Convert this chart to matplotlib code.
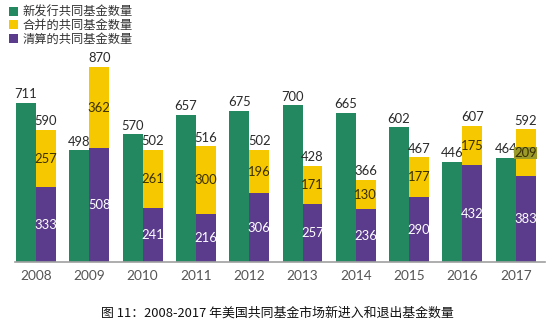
import matplotlib
matplotlib.use('Agg')
import numpy as np
import matplotlib.pyplot as plt

plt.rcParams['font.family'] = ['Noto Sans CJK SC', 'DejaVu Sans']

# datos
anios = ['2008', '2009', '2010', '2011', '2012', '2013', '2014', '2015', '2016', '2017']
nuevos = [711, 498, 570, 657, 675, 700, 665, 602, 446, 464]
fusionados = [257, 362, 261, 300, 196, 171, 130, 177, 175, 209]
liquidados = [333, 508, 241, 216, 306, 257, 236, 290, 432, 383]

verde = '#23875F'
amarillo = '#F5C800'
morado = '#5B3B8C'

fig = plt.figure(figsize=(5.5, 3.25), dpi=100)
ax = fig.add_axes([0, 63 / 325, 1, 262 / 325])

x = np.arange(len(anios))
w = 0.375
ax.bar(x - w / 2, nuevos, w, color=verde, label='新发行共同基金数量')
ax.bar(x + w / 2, fusionados, w, bottom=liquidados, color=amarillo, label='合并的共同基金数量')
ax.bar(x + w / 2, liquidados, w, color=morado, label='清算的共同基金数量')

num_font = dict(family=['Lato', 'DejaVu Sans'], fontsize=9.4)
for i in range(len(anios)):
    total = fusionados[i] + liquidados[i]
    ax.text(x[i] - w / 2, nuevos[i] + 12, str(nuevos[i]), ha='center', va='bottom', color='#2a2a2a', **num_font)
    ax.text(x[i] + w / 2, total + 12, str(total), ha='center', va='bottom', color='#2a2a2a', **num_font)
    caja = None
    if anios[i] == '2017':
        caja = dict(boxstyle='square,pad=0.02', facecolor='#9C9A28', edgecolor='none')
    ax.text(x[i] + w / 2, liquidados[i] + fusionados[i] / 2, str(fusionados[i]), ha='center', va='center',
            color='#3a3000', bbox=caja, **num_font)
    ax.text(x[i] + w / 2, liquidados[i] / 2, str(liquidados[i]), ha='center', va='center', color='white', **num_font)

ax.set_xlim(-36 / 53.3, (550 - 36) / 53.3)
ax.set_ylim(0, 1170)
ax.set_xticks(x)
ax.set_xticklabels(anios, family=['Lato', 'DejaVu Sans'], fontsize=9.8, color='#555555')
ax.tick_params(axis='x', length=0, pad=6)
ax.set_yticks([])
for lado in ['top', 'right', 'left']:
    ax.spines[lado].set_visible(False)
ax.spines['bottom'].set_color('#a0a0a0')
ax.spines['bottom'].set_linewidth(1.2)
ax.spines['bottom'].set_bounds(-0.4, 9.55)

leg = fig.legend(loc='upper left', bbox_to_anchor=(0.0, 1.01), frameon=False, fontsize=8.8,
                 handlelength=0.75, handleheight=0.75, handletextpad=0.4, labelspacing=0.05,
                 borderaxespad=0.3)
for t in leg.get_texts():
    t.set_color('#333333')

fig.text(0.505, 1 - 313 / 325, '图 11：2008-2017 年美国共同基金市场新进入和退出基金数量',
         ha='center', va='center', fontsize=9.3, color='#111111')

fig.savefig('out.png', dpi=100)
